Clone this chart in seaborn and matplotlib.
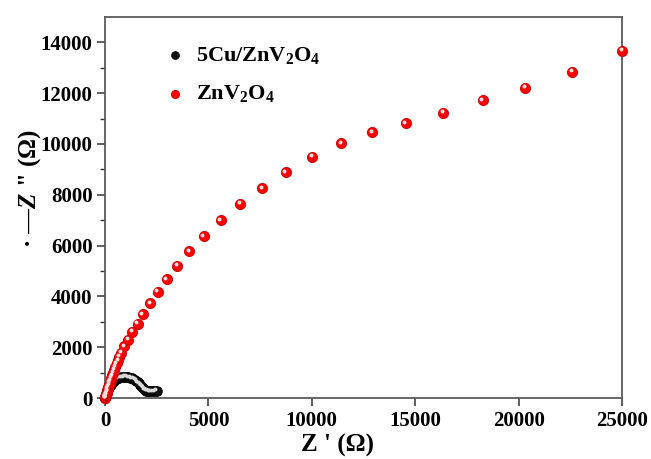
import numpy as np
import pandas as pd
import matplotlib
matplotlib.use("Agg")
import matplotlib.pyplot as plt
import matplotlib.transforms as mtransforms
import seaborn as sns

# ---------------- data ----------------
label_cu = "5Cu/ZnV$_2$O$_4$"
label_zn = "ZnV$_2$O$_4$"

cu_x = [20, 45, 80, 120, 165, 215, 270, 330, 395, 465, 540, 620, 700, 785, 870,
        955, 1040, 1125, 1210, 1295, 1375, 1450, 1520, 1585, 1645, 1700, 1750,
        1800, 1850, 1900, 1950, 2000, 2060, 2130, 2210, 2300, 2400, 2500]
cu_y = [40, 110, 190, 270, 350, 430, 505, 575, 635, 690, 735, 770, 795, 812, 822,
        826, 824, 815, 800, 778, 748, 712, 670, 625, 578, 530, 482,
        435, 390, 350, 315, 290, 272, 262, 258, 260, 266, 275]

zn_x = [3, 7, 13, 21, 31, 43, 57, 73, 92, 113, 138, 165, 195, 230, 267, 308, 352,
        400, 450, 505, 565, 630, 700, 774, 919, 1112, 1320, 1581, 1823, 2176,
        2548, 2984, 3496, 4062, 4773, 5595, 6543, 7592, 8738, 10024, 11427,
        12925, 14541, 16344, 18264, 20309, 22582, 25000]
zn_y = [3, 11, 25, 45, 72, 105, 145, 192, 245, 305, 370, 440, 515, 600, 690, 785,
        890, 1000, 1115, 1235, 1360, 1490, 1630, 1770, 2034, 2298, 2600, 2930,
        3298, 3732, 4179, 4680, 5193, 5774, 6366, 6998, 7654, 8262, 8879, 9487,
        10024, 10458, 10814, 11224, 11722, 12224, 12844, 13673]

x_ticks = [0, 5000, 10000, 15000, 20000, 25000]
y_ticks = [0, 2000, 4000, 6000, 8000, 10000, 12000, 14000]

df = pd.concat([
    pd.DataFrame({"x": cu_x, "y": cu_y, "sample": label_cu}),
    pd.DataFrame({"x": zn_x, "y": zn_y, "sample": label_zn}),
], ignore_index=True)

# ---------------- style ----------------
sns.set_style("white")
plt.rcParams["font.family"] = ["Liberation Serif", "DejaVu Serif"]
plt.rcParams["font.weight"] = "bold"
plt.rcParams["text.color"] = "black"
plt.rcParams["axes.labelcolor"] = "black"
plt.rcParams["xtick.labelcolor"] = "black"
plt.rcParams["ytick.labelcolor"] = "black"
plt.rcParams["mathtext.fontset"] = "custom"
plt.rcParams["mathtext.rm"] = "Liberation Serif:bold"
plt.rcParams["mathtext.bf"] = "Liberation Serif:bold"
plt.rcParams["mathtext.it"] = "Liberation Serif:bold:italic"
plt.rcParams["mathtext.default"] = "bf"

fig = plt.figure(figsize=(6.51, 4.59), dpi=100)
ax = fig.add_axes([105 / 651, 61 / 459, 517 / 651, 381 / 459])

styles = {
    label_cu: dict(face="#101010", edge="#000000", hl="#d8d8d8", s=48),
    label_zn: dict(face="#ff0000", edge="#c80000", hl="#ffe0e0", s=54),
}

hl_offset = mtransforms.ScaledTranslation(-1.4 / 100, 1.6 / 100, fig.dpi_scale_trans)

handles = []
for name in [label_cu, label_zn]:
    sub = df[df["sample"] == name]
    st = styles[name]
    sns.scatterplot(data=sub, x="x", y="y", ax=ax, color=st["face"],
                    edgecolor=st["edge"], linewidth=0.6, s=st["s"],
                    legend=False, clip_on=False, zorder=3)
    handles.append(ax.collections[-1])
    ax.scatter(sub["x"], sub["y"], s=8, color=st["hl"], linewidths=0,
               transform=ax.transData + hl_offset, clip_on=False, zorder=3)

ax.set_xlim(0, 25000)
ax.set_ylim(0, 15000)
ax.set_xticks(x_ticks)
ax.set_yticks(y_ticks)
ax.set_yticks(np.arange(1000, 15000, 2000), minor=True)

for side in ["left", "bottom", "top", "right"]:
    ax.spines[side].set_visible(True)
    ax.spines[side].set_color("#5a5a5a")
    ax.spines[side].set_linewidth(1.3)

ax.tick_params(axis="both", which="major", direction="out", length=6, width=1.1,
               color="#333333", labelcolor="black", labelsize=15, pad=3,
               bottom=True, left=True)
ax.tick_params(axis="y", which="minor", direction="out", length=3.5, width=1.0,
               color="#333333", left=True)
for lab in ax.get_xticklabels() + ax.get_yticklabels():
    lab.set_fontweight("bold")

ax.set_xlabel("Z ' (Ω)", fontsize=18, fontweight="bold", color="black")
ax.set_ylabel("· —" + r"$\mathit{Z}$" + ' " (Ω)', fontsize=18, fontweight="bold",
              color="black")
ax.xaxis.set_label_coords(0.45, -0.095)
ax.yaxis.set_label_coords(-0.12, 0.55)

leg = ax.legend(handles, [label_cu, label_zn], loc="center left",
                bbox_to_anchor=(0.114, 0.849), frameon=False, fontsize=16,
                borderpad=0, borderaxespad=0, handlelength=1.0,
                handletextpad=0.45, labelspacing=0.8, markerscale=0.8)
for t in leg.get_texts():
    t.set_fontweight("bold")
    t.set_color("black")

fig.savefig("out.png", dpi=100)
